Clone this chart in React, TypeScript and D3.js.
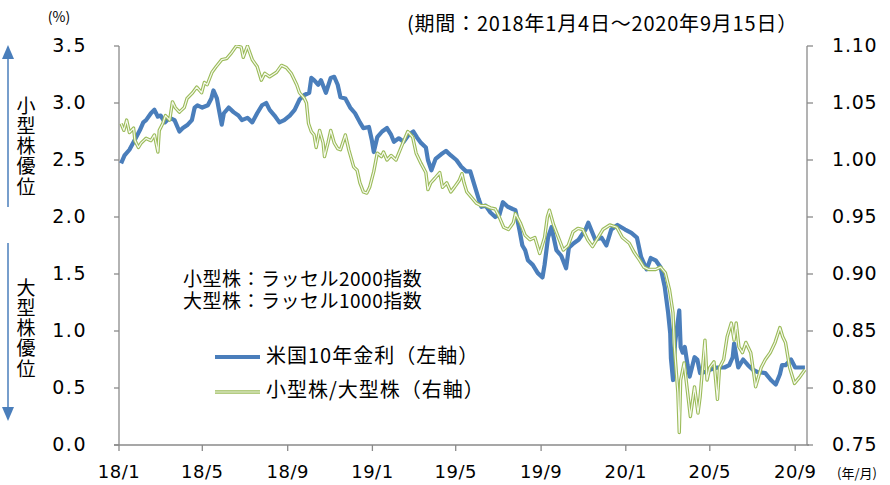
import { useEffect, useRef } from 'react';
import * as d3 from 'd3';

// 米国10年金利 (%), left axis
const yieldSeries: [string, number][] = [
  ['2018-01-04', 2.47], ['2018-01-09', 2.54], ['2018-01-16', 2.59], ['2018-01-24', 2.68], ['2018-01-31', 2.76],
  ['2018-02-05', 2.83], ['2018-02-09', 2.85], ['2018-02-16', 2.91], ['2018-02-21', 2.94], ['2018-02-26', 2.88],
  ['2018-03-02', 2.89], ['2018-03-08', 2.83], ['2018-03-15', 2.87], ['2018-03-22', 2.85], ['2018-03-29', 2.75],
  ['2018-04-03', 2.78], ['2018-04-10', 2.81], ['2018-04-16', 2.85], ['2018-04-20', 2.96], ['2018-04-24', 2.98],
  ['2018-05-01', 2.96], ['2018-05-09', 2.98], ['2018-05-14', 3.04], ['2018-05-17', 3.11], ['2018-05-22', 3.04],
  ['2018-05-25', 2.94], ['2018-05-29', 2.81], ['2018-06-01', 2.91], ['2018-06-08', 2.96], ['2018-06-15', 2.92],
  ['2018-06-22', 2.89], ['2018-06-27', 2.85], ['2018-07-05', 2.87], ['2018-07-12', 2.83], ['2018-07-19', 2.91],
  ['2018-07-26', 2.98], ['2018-08-01', 3.00], ['2018-08-06', 2.94], ['2018-08-13', 2.89], ['2018-08-20', 2.83],
  ['2018-08-27', 2.85], ['2018-09-04', 2.89], ['2018-09-11', 2.94], ['2018-09-18', 3.03], ['2018-09-25', 3.07],
  ['2018-10-02', 3.09], ['2018-10-05', 3.22], ['2018-10-09', 3.20], ['2018-10-15', 3.16], ['2018-10-19', 3.20],
  ['2018-10-26', 3.09], ['2018-11-02', 3.22], ['2018-11-07', 3.23], ['2018-11-12', 3.16], ['2018-11-16', 3.05],
  ['2018-11-23', 3.04], ['2018-11-30', 2.96], ['2018-12-07', 2.91], ['2018-12-14', 2.83], ['2018-12-19', 2.78],
  ['2018-12-27', 2.79], ['2018-12-31', 2.68], ['2019-01-03', 2.57], ['2019-01-08', 2.70], ['2019-01-15', 2.75],
  ['2019-01-22', 2.78], ['2019-01-28', 2.72], ['2019-02-01', 2.66], ['2019-02-08', 2.69], ['2019-02-15', 2.66],
  ['2019-02-22', 2.72], ['2019-03-01', 2.75], ['2019-03-06', 2.70], ['2019-03-12', 2.65], ['2019-03-19', 2.61],
  ['2019-03-22', 2.50], ['2019-03-27', 2.41], ['2019-04-02', 2.51], ['2019-04-10', 2.55], ['2019-04-17', 2.58],
  ['2019-04-24', 2.54], ['2019-05-02', 2.50], ['2019-05-09', 2.44], ['2019-05-16', 2.40], ['2019-05-22', 2.40],
  ['2019-05-28', 2.28], ['2019-06-03', 2.16], ['2019-06-07', 2.09], ['2019-06-13', 2.10], ['2019-06-20', 2.04],
  ['2019-06-27', 2.00], ['2019-07-03', 2.02], ['2019-07-08', 2.13], ['2019-07-15', 2.09], ['2019-07-22', 2.07],
  ['2019-07-26', 2.06], ['2019-08-01', 1.88], ['2019-08-05', 1.75], ['2019-08-09', 1.71], ['2019-08-13', 1.62],
  ['2019-08-20', 1.58], ['2019-08-27', 1.51], ['2019-09-03', 1.47], ['2019-09-06', 1.58], ['2019-09-11', 1.82],
  ['2019-09-16', 1.91], ['2019-09-23', 1.71], ['2019-09-30', 1.66], ['2019-10-07', 1.55], ['2019-10-11', 1.73],
  ['2019-10-18', 1.77], ['2019-10-25', 1.80], ['2019-11-04', 1.89], ['2019-11-08', 1.95], ['2019-11-18', 1.80],
  ['2019-11-27', 1.82], ['2019-12-04', 1.75], ['2019-12-11', 1.89], ['2019-12-20', 1.93], ['2019-12-31', 1.89],
  ['2020-01-09', 1.86], ['2020-01-17', 1.82], ['2020-01-23', 1.65], ['2020-01-31', 1.54], ['2020-02-06', 1.64],
  ['2020-02-13', 1.62], ['2020-02-20', 1.56], ['2020-02-26', 1.39], ['2020-03-02', 1.16], ['2020-03-05', 0.98],
  ['2020-03-06', 0.76], ['2020-03-09', 0.57], ['2020-03-12', 0.90], ['2020-03-18', 1.18], ['2020-03-20', 0.86],
  ['2020-03-23', 0.81], ['2020-03-26', 0.86], ['2020-03-30', 0.70], ['2020-04-02', 0.60], ['2020-04-09', 0.77],
  ['2020-04-13', 0.75], ['2020-04-17', 0.63], ['2020-04-24', 0.64], ['2020-05-01', 0.66], ['2020-05-12', 0.68],
  ['2020-05-22', 0.68], ['2020-05-29', 0.70], ['2020-06-03', 0.77], ['2020-06-05', 0.89], ['2020-06-11', 0.68],
  ['2020-06-18', 0.75], ['2020-06-25', 0.70], ['2020-07-02', 0.66], ['2020-07-09', 0.64], ['2020-07-20', 0.63],
  ['2020-07-28', 0.57], ['2020-08-04', 0.53], ['2020-08-10', 0.62], ['2020-08-13', 0.70], ['2020-08-18', 0.70],
  ['2020-08-26', 0.75], ['2020-09-01', 0.68], ['2020-09-08', 0.68], ['2020-09-15', 0.68],
];

// 小型株/大型株, right axis
const ratioSeries: [string, number][] = [
  ['2018-01-04', 1.032], ['2018-01-08', 1.026], ['2018-01-12', 1.035], ['2018-01-16', 1.024], ['2018-01-22', 1.028],
  ['2018-01-24', 1.017], ['2018-01-29', 1.011], ['2018-02-02', 1.015], ['2018-02-09', 1.019], ['2018-02-16', 1.017],
  ['2018-02-21', 1.022], ['2018-02-26', 1.007], ['2018-02-28', 1.026], ['2018-03-05', 1.032], ['2018-03-09', 1.039],
  ['2018-03-15', 1.035], ['2018-03-19', 1.051], ['2018-03-23', 1.046], ['2018-03-29', 1.042], ['2018-04-05', 1.046],
  ['2018-04-09', 1.054], ['2018-04-17', 1.059], ['2018-04-23', 1.064], ['2018-04-30', 1.059], ['2018-05-04', 1.068],
  ['2018-05-08', 1.066], ['2018-05-15', 1.077], ['2018-05-21', 1.082], ['2018-05-29', 1.088], ['2018-06-05', 1.089],
  ['2018-06-12', 1.094], ['2018-06-19', 1.100], ['2018-06-26', 1.099], ['2018-06-29', 1.090], ['2018-07-05', 1.100],
  ['2018-07-12', 1.088], ['2018-07-19', 1.082], ['2018-07-25', 1.070], ['2018-07-30', 1.076], ['2018-08-06', 1.073],
  ['2018-08-16', 1.077], ['2018-08-23', 1.083], ['2018-08-30', 1.081], ['2018-09-06', 1.076], ['2018-09-14', 1.066],
  ['2018-09-18', 1.059], ['2018-09-25', 1.054], ['2018-09-28', 1.050], ['2018-10-01', 1.032], ['2018-10-05', 1.025],
  ['2018-10-09', 1.022], ['2018-10-12', 1.011], ['2018-10-17', 1.026], ['2018-10-22', 1.015], ['2018-10-24', 1.003],
  ['2018-10-29', 1.015], ['2018-11-02', 1.026], ['2018-11-07', 1.015], ['2018-11-12', 1.010], ['2018-11-16', 1.009],
  ['2018-11-23', 1.022], ['2018-11-28', 1.009], ['2018-12-05', 0.994], ['2018-12-10', 0.991], ['2018-12-14', 0.980],
  ['2018-12-19', 0.972], ['2018-12-24', 0.971], ['2018-12-28', 0.976], ['2019-01-03', 0.990], ['2019-01-08', 1.006],
  ['2019-01-14', 1.003], ['2019-01-17', 1.007], ['2019-01-22', 1.000], ['2019-01-28', 1.004], ['2019-02-04', 1.000],
  ['2019-02-08', 1.006], ['2019-02-14', 1.015], ['2019-02-21', 1.025], ['2019-02-28', 1.020], ['2019-03-05', 1.006],
  ['2019-03-12', 0.997], ['2019-03-19', 0.989], ['2019-03-22', 0.974], ['2019-03-26', 0.980], ['2019-04-01', 0.984],
  ['2019-04-08', 0.989], ['2019-04-12', 0.976], ['2019-04-18', 0.980], ['2019-04-24', 0.972], ['2019-04-29', 0.976],
  ['2019-05-06', 0.982], ['2019-05-10', 0.988], ['2019-05-13', 0.980], ['2019-05-17', 0.972], ['2019-05-24', 0.967],
  ['2019-05-31', 0.962], ['2019-06-06', 0.960], ['2019-06-13', 0.960], ['2019-06-20', 0.958], ['2019-06-27', 0.957],
  ['2019-07-02', 0.951], ['2019-07-09', 0.941], ['2019-07-16', 0.939], ['2019-07-23', 0.945], ['2019-07-26', 0.953],
  ['2019-08-02', 0.945], ['2019-08-09', 0.934], ['2019-08-16', 0.930], ['2019-08-23', 0.932], ['2019-08-30', 0.918],
  ['2019-09-06', 0.932], ['2019-09-10', 0.950], ['2019-09-13', 0.956], ['2019-09-19', 0.943], ['2019-09-26', 0.932],
  ['2019-10-03', 0.921], ['2019-10-10', 0.925], ['2019-10-17', 0.937], ['2019-10-24', 0.940], ['2019-10-31', 0.939],
  ['2019-11-07', 0.930], ['2019-11-14', 0.924], ['2019-11-22', 0.932], ['2019-11-29', 0.939], ['2019-12-09', 0.943],
  ['2019-12-19', 0.941], ['2019-12-27', 0.932], ['2020-01-06', 0.927], ['2020-01-13', 0.919], ['2020-01-21', 0.912],
  ['2020-01-27', 0.906], ['2020-02-03', 0.904], ['2020-02-13', 0.904], ['2020-02-20', 0.906], ['2020-02-27', 0.901],
  ['2020-03-04', 0.886], ['2020-03-09', 0.866], ['2020-03-11', 0.836], ['2020-03-16', 0.796], ['2020-03-18', 0.761],
  ['2020-03-20', 0.807], ['2020-03-25', 0.822], ['2020-03-30', 0.796], ['2020-04-03', 0.775], ['2020-04-09', 0.801],
  ['2020-04-14', 0.778], ['2020-04-17', 0.792], ['2020-04-24', 0.842], ['2020-04-27', 0.807], ['2020-05-01', 0.818],
  ['2020-05-07', 0.823], ['2020-05-12', 0.790], ['2020-05-15', 0.818], ['2020-05-21', 0.825], ['2020-05-26', 0.845],
  ['2020-06-01', 0.857], ['2020-06-05', 0.842], ['2020-06-08', 0.857], ['2020-06-12', 0.836], ['2020-06-17', 0.831],
  ['2020-06-22', 0.840], ['2020-06-29', 0.831], ['2020-07-06', 0.801], ['2020-07-14', 0.818], ['2020-07-20', 0.825],
  ['2020-07-27', 0.831], ['2020-08-03', 0.840], ['2020-08-10', 0.853], ['2020-08-14', 0.845], ['2020-08-18', 0.840],
  ['2020-08-24', 0.818], ['2020-08-31', 0.804], ['2020-09-08', 0.810], ['2020-09-15', 0.816],
];

const leftTicks = [0, 0.5, 1.0, 1.5, 2.0, 2.5, 3.0, 3.5];
const rightTicks = [0.75, 0.8, 0.85, 0.9, 0.95, 1.0, 1.05, 1.1];
const monthTicks = ['2018-01-01', '2018-05-01', '2018-09-01', '2019-01-01', '2019-05-01', '2019-09-01', '2020-01-01', '2020-05-01', '2020-09-01'];
const monthLabels = ['18/1', '18/5', '18/9', '19/1', '19/5', '19/9', '20/1', '20/5', '20/9'];
const noteLines = ['小型株：ラッセル2000指数', '大型株：ラッセル1000指数'];
const legendItems = ['米国10年金利（左軸）', '小型株/大型株（右軸）'];

const BLUE = '#4a7ebb';
const GREEN = '#9bbb59';
const AXIS = '#8a8a8a';
const NUM_FONT = '"DejaVu Sans", sans-serif';
const JP_FONT = '"Noto Sans CJK JP", "Noto Sans", sans-serif';

const App = () => {
  const svgRef = useRef<SVGSVGElement | null>(null);

  useEffect(() => {
    if (!svgRef.current) return;
    const svg = d3.select(svgRef.current);
    svg.selectAll('*').remove();

    const parse = d3.timeParse('%Y-%m-%d');
    const left = 119, right = 807, top = 46, bottom = 445;

    const x = d3.scaleTime()
      .domain([parse('2018-01-01')!, parse('2020-09-18')!])
      .range([left, right]);
    const yL = d3.scaleLinear().domain([0, 3.5]).range([bottom, top]);
    const yR = d3.scaleLinear().domain([0.75, 1.1]).range([bottom, top]);

    svg.append('clipPath').attr('id', 'plot-clip')
      .append('rect').attr('x', left).attr('y', top - 1).attr('width', right - left).attr('height', bottom - top + 1);

    // Axes
    const axisG = svg.append('g').attr('stroke', AXIS).attr('stroke-width', 1.3).attr('fill', 'none');
    axisG.append('line').attr('x1', left).attr('x2', left).attr('y1', top).attr('y2', bottom);
    axisG.append('line').attr('x1', right).attr('x2', right).attr('y1', top).attr('y2', bottom);
    axisG.append('line').attr('x1', left - 5).attr('x2', right + 2).attr('y1', bottom).attr('y2', bottom);

    axisG.selectAll('.lt').data(leftTicks).enter().append('line')
      .attr('x1', left - 5).attr('x2', left).attr('y1', d => yL(d)).attr('y2', d => yL(d));
    axisG.selectAll('.rt').data(rightTicks).enter().append('line')
      .attr('x1', right).attr('x2', right + 6).attr('y1', d => yR(d)).attr('y2', d => yR(d));
    axisG.selectAll('.xt').data(monthTicks).enter().append('line')
      .attr('x1', d => x(parse(d)!)).attr('x2', d => x(parse(d)!))
      .attr('y1', bottom).attr('y2', bottom + 6);

    // Tick labels
    svg.selectAll('.ll').data(leftTicks).enter().append('text')
      .attr('x', 87).attr('y', d => yL(d) + 6)
      .attr('text-anchor', 'end')
      .attr('font-family', NUM_FONT).attr('font-size', 19).attr('letter-spacing', 1.5)
      .attr('fill', '#000')
      .text(d => d.toFixed(1));

    svg.selectAll('.rl').data(rightTicks).enter().append('text')
      .attr('x', 832).attr('y', d => yR(d) + 6)
      .attr('font-family', NUM_FONT).attr('font-size', 19).attr('letter-spacing', 0.8)
      .attr('fill', '#000')
      .text(d => d.toFixed(2));

    svg.selectAll('.xl').data(monthTicks).enter().append('text')
      .attr('x', (d) => x(parse(d)!))
      .attr('y', 478)
      .attr('text-anchor', 'middle')
      .attr('font-family', NUM_FONT).attr('font-size', 18).attr('letter-spacing', 0.5)
      .attr('fill', '#000')
      .text((_, i) => monthLabels[i]);

    svg.append('text').attr('x', 857).attr('y', 478).attr('text-anchor', 'middle')
      .attr('font-family', JP_FONT).attr('font-size', 13).attr('fill', '#000').text('(年/月)');
    svg.append('text').attr('x', 59).attr('y', 22).attr('text-anchor', 'middle')
      .attr('font-family', JP_FONT).attr('font-size', 14).attr('fill', '#000').text('(%)');

    // Title
    svg.append('text').attr('x', 798).attr('y', 31).attr('text-anchor', 'end')
      .attr('font-family', JP_FONT).attr('font-size', 20).attr('letter-spacing', 0.8).attr('fill', '#000')
      .text('(期間：2018年1月4日～2020年9月15日）');

    // Lines
    const plot = svg.append('g').attr('clip-path', 'url(#plot-clip)');
    const blueLine = d3.line<[string, number]>()
      .x(d => x(parse(d[0])!))
      .y(d => yL(d[1]));
    const greenLine = d3.line<[string, number]>()
      .x(d => x(parse(d[0])!))
      .y(d => yR(d[1]));

    plot.append('path').datum(yieldSeries)
      .attr('d', blueLine).attr('fill', 'none')
      .attr('stroke', BLUE).attr('stroke-width', 4.2).attr('stroke-linejoin', 'round');

    plot.append('path').datum(ratioSeries)
      .attr('d', greenLine).attr('fill', 'none')
      .attr('stroke', GREEN).attr('stroke-width', 3.4).attr('stroke-linejoin', 'round');
    plot.append('path').datum(ratioSeries)
      .attr('d', greenLine).attr('fill', 'none')
      .attr('stroke', '#f6f9ef').attr('stroke-width', 1.2).attr('stroke-linejoin', 'round');

    // Notes (one text block, two lines)
    const note = svg.append('text')
      .attr('font-family', JP_FONT).attr('font-size', 19).attr('letter-spacing', 0.5).attr('fill', '#000');
    note.selectAll('tspan').data(noteLines).enter().append('tspan')
      .attr('x', 183).attr('y', (_, i) => 286 + i * 22)
      .text(d => d);

    // Legend
    const lg = svg.append('g');
    lg.append('line').attr('x1', 215).attr('x2', 260).attr('y1', 357).attr('y2', 357)
      .attr('stroke', BLUE).attr('stroke-width', 4.2);
    lg.append('line').attr('x1', 215).attr('x2', 260).attr('y1', 392).attr('y2', 392)
      .attr('stroke', GREEN).attr('stroke-width', 3.4);
    lg.append('line').attr('x1', 215).attr('x2', 260).attr('y1', 392).attr('y2', 392)
      .attr('stroke', '#f6f9ef').attr('stroke-width', 1.2);
    lg.selectAll('.lt').data(legendItems).enter().append('text')
      .attr('x', 266).attr('y', (_, i) => 363 + i * 34)
      .attr('font-family', JP_FONT).attr('font-size', 20).attr('letter-spacing', 1).attr('fill', '#000')
      .text(d => d);

    // Side arrows and labels
    const side = svg.append('g');
    side.append('line').attr('x1', 8).attr('x2', 8).attr('y1', 56).attr('y2', 207)
      .attr('stroke', BLUE).attr('stroke-width', 1.5);
    side.append('path').attr('d', 'M8,45 L14,59 L2,59 Z').attr('fill', BLUE);
    side.append('line').attr('x1', 8).attr('x2', 8).attr('y1', 243).attr('y2', 410)
      .attr('stroke', BLUE).attr('stroke-width', 1.5);
    side.append('path').attr('d', 'M8,421 L14,407 L2,407 Z').attr('fill', BLUE);

    const sideLabels = [
      { text: '小型株優位', y0: 96 },
      { text: '大型株優位', y0: 278 },
    ];
    sideLabels.forEach(s => {
      side.append('text')
        .attr('x', 26).attr('y', s.y0)
        .style('writing-mode', 'vertical-rl')
        .attr('font-family', JP_FONT).attr('font-size', 19).attr('letter-spacing', 1.2)
        .attr('fill', '#000')
        .text(s.text);
    });
  }, []);

  return (
    <svg
      ref={svgRef}
      width={890}
      height={485}
      style={{ position: 'absolute', left: 0, top: 0, background: '#fff' }}
    />
  );
};

export default App;
